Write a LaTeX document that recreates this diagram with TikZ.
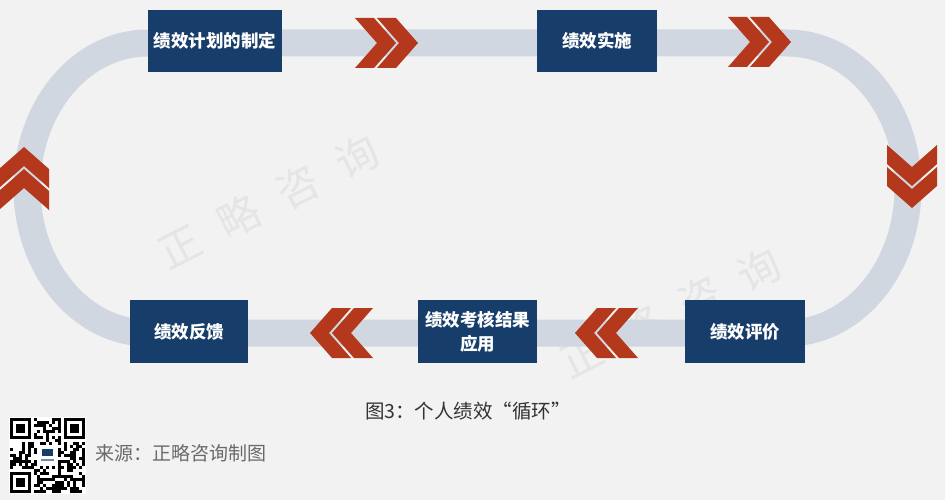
\documentclass[tikz,border=0pt]{standalone}
\usepackage{fontspec}
\setmainfont{Noto Sans CJK SC}
\definecolor{bgc}{HTML}{F2F2F2}
\definecolor{trackc}{HTML}{D0D7E1}
\definecolor{boxblue}{HTML}{173D6A}
\definecolor{chevred}{HTML}{B4381B}
\definecolor{wmc}{HTML}{E5E5E5}
\definecolor{capgray}{HTML}{333333}
\definecolor{srcgray}{HTML}{6A6A6A}
\tikzset{
  box/.style={fill=boxblue, text=white, inner sep=0pt, align=center,
    font=\fontsize{17.5}{24}\selectfont\bfseries},
  wm/.style={text=wmc, font=\fontsize{42}{42}\selectfont, rotate=27, inner sep=0pt},
  chev/.pic={
    \fill[chevred] (0,-25) -- (19,-25) -- (41,0) -- (19,25) -- (0,25) -- (22,0) -- cycle;
    \fill[chevred] (22,-25) -- (41,-25) -- (63,0) -- (41,25) -- (22,25) -- (44,0) -- cycle;
  }
}
\begin{document}
\begin{tikzpicture}[x=1pt,y=-1pt]
\fill[bgc] (0,0) rectangle (945,500);
\useasboundingbox (0,0) rectangle (945,500);
% watermarks
\node[wm] (w1) at (180,247) {正};
\node[wm] (w2) at (239,217) {略};
\node[wm] (w3) at (298,187) {咨};
\node[wm] (w4) at (357,157) {询};
\node[wm] (v1) at (582,356) {正};
\node[wm] (v2) at (641,327) {略};
\node[wm] (v3) at (700,298) {咨};
\node[wm] (v4) at (759,270) {询};
% track
\draw[trackc, line width=27pt] (148,43) -- (787,43)
  .. controls (853.8,43) and (908,107.1) .. (908,187.5)
  .. controls (908,267.9) and (853.8,333) .. (787,333)
  -- (148,333)
  .. controls (81.2,333) and (27,267.9) .. (27,187.5)
  .. controls (27,107.1) and (81.2,43) .. (148,43) -- cycle;
% chevrons
\pic (c1) at (355,43) {chev};
\pic (c2) at (728,42) {chev};
\pic[rotate=-90] (c3) at (912,145) {chev};
\pic[rotate=180] (c4) at (638,333) {chev};
\pic[rotate=180] (c5) at (373,333) {chev};
\pic[rotate=90] (c6) at (24,210) {chev};
% boxes
\node[box, minimum width=134pt, minimum height=62pt] (b1) at (215,41) {绩效计划的制定};
\node[box, minimum width=120pt, minimum height=62pt] (b2) at (597,41) {绩效实施};
\node[box, minimum width=120pt, minimum height=63pt] (b3) at (745,331.5) {绩效评价};
\node[box, minimum width=119pt, minimum height=63pt] (b4) at (477.5,331.5) {绩效考核结果\\应用};
\node[box, minimum width=118pt, minimum height=63pt] (b5) at (189,331.5) {绩效反馈};
% caption
\node[text=capgray, font=\fontsize{19.5}{24}\selectfont, inner sep=0pt] (cap) at (468,411) {图3：个人绩效“循环”};
\node[text=srcgray, font=\fontsize{19}{24}\selectfont, anchor=west, inner sep=0pt] (src) at (95,453) {来源：正略咨询制图};
% QR code
\fill[white] (9,417) rectangle (86,494);
\pgfmathsetseed{7}
\foreach \i in {0,...,24}{\foreach \j in {0,...,24}{
  \pgfmathtruncatemacro\keep{((\i<8)&&(\j<8)) || ((\i>16)&&(\j<8)) || ((\i<8)&&(\j>16)) || ((\i>8)&&(\i<16)&&(\j>8)&&(\j<16)) ? 0 : (rnd<0.5 ? 1 : 0)}
  \ifnum\keep=1 \fill[black] (10+3*\i,418+3*\j) rectangle ++(3,3); \fi
}}
\foreach \x/\y in {10/418, 64/418, 10/472}{
  \fill[black] (\x,\y) rectangle ++(21,21);
  \fill[white] (\x+3,\y+3) rectangle ++(15,15);
  \fill[black] (\x+6,\y+6) rectangle ++(9,9);
}
\fill[white] (38,446) rectangle ++(19,19);
\fill[boxblue] (42,449) rectangle ++(11,7);
\fill[boxblue!60] (41,459) rectangle ++(13,2);
\end{tikzpicture}
\end{document}
